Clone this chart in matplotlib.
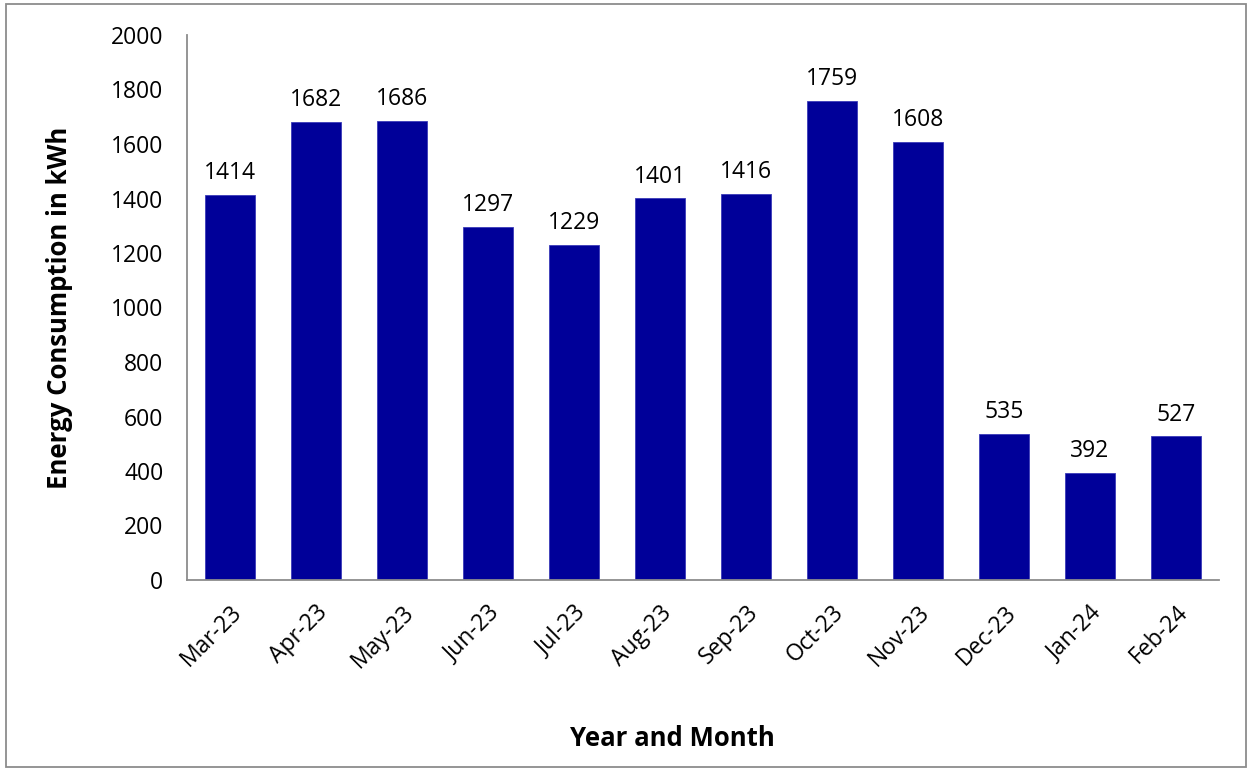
import matplotlib
matplotlib.use("Agg")
import matplotlib.pyplot as plt
from matplotlib.patches import Rectangle

months = ["Mar-23", "Apr-23", "May-23", "Jun-23", "Jul-23", "Aug-23",
          "Sep-23", "Oct-23", "Nov-23", "Dec-23", "Jan-24", "Feb-24"]
consumption = [1414, 1682, 1686, 1297, 1229, 1401, 1416, 1759, 1608, 535, 392, 527]
yticks = [0, 200, 400, 600, 800, 1000, 1200, 1400, 1600, 1800, 2000]

plt.rcParams['font.family'] = ['Open Sans', 'DejaVu Sans']

fig = plt.figure(figsize=(12.49, 7.69), dpi=100)
ax = fig.add_axes([187/1249, 1-580/769, (1219-187)/1249, (580-35)/769])

x = range(len(months))
bars = ax.bar(x, consumption, width=0.57, color="#000099", edgecolor="#3a3ab8", linewidth=0.6)
for xi, v in zip(x, consumption):
    ax.annotate(str(v), (xi, v), xytext=(0, 7), textcoords="offset points",
                ha="center", va="bottom", fontsize=16.5, color="black")

ax.set_xlim(-0.5, len(months) - 0.5)
ax.set_ylim(0, 2000)
ax.set_yticks(yticks)
ax.set_yticklabels([str(t) for t in yticks], fontsize=16.5)
ax.set_xticks(list(x))
ax.set_xticklabels(months, rotation=45, ha="right", rotation_mode="anchor", fontsize=16.5)
ax.tick_params(axis="both", length=0)
ax.tick_params(axis="y", pad=17)
ax.tick_params(axis="x", pad=15)

for s in ["top", "right"]:
    ax.spines[s].set_visible(False)
for s in ["left", "bottom"]:
    ax.spines[s].set_color("#8c8c8c")
    ax.spines[s].set_linewidth(1.3)

fig.text(60/1249, 1-308/769, "Energy Consumption in kWh", rotation=90, ha="center", va="center",
         fontsize=18.5, fontweight="bold")
fig.text(672/1249, 1-738/769, "Year and Month", ha="center", va="center",
         fontsize=18.5, fontweight="bold")

fig.patches.append(Rectangle((6/1249, 2/769), (1246-6)/1249, (765-2)/769,
                             transform=fig.transFigure, fill=False,
                             edgecolor="#8c8c8c", linewidth=1.3))

fig.savefig("out.png", dpi=100)
